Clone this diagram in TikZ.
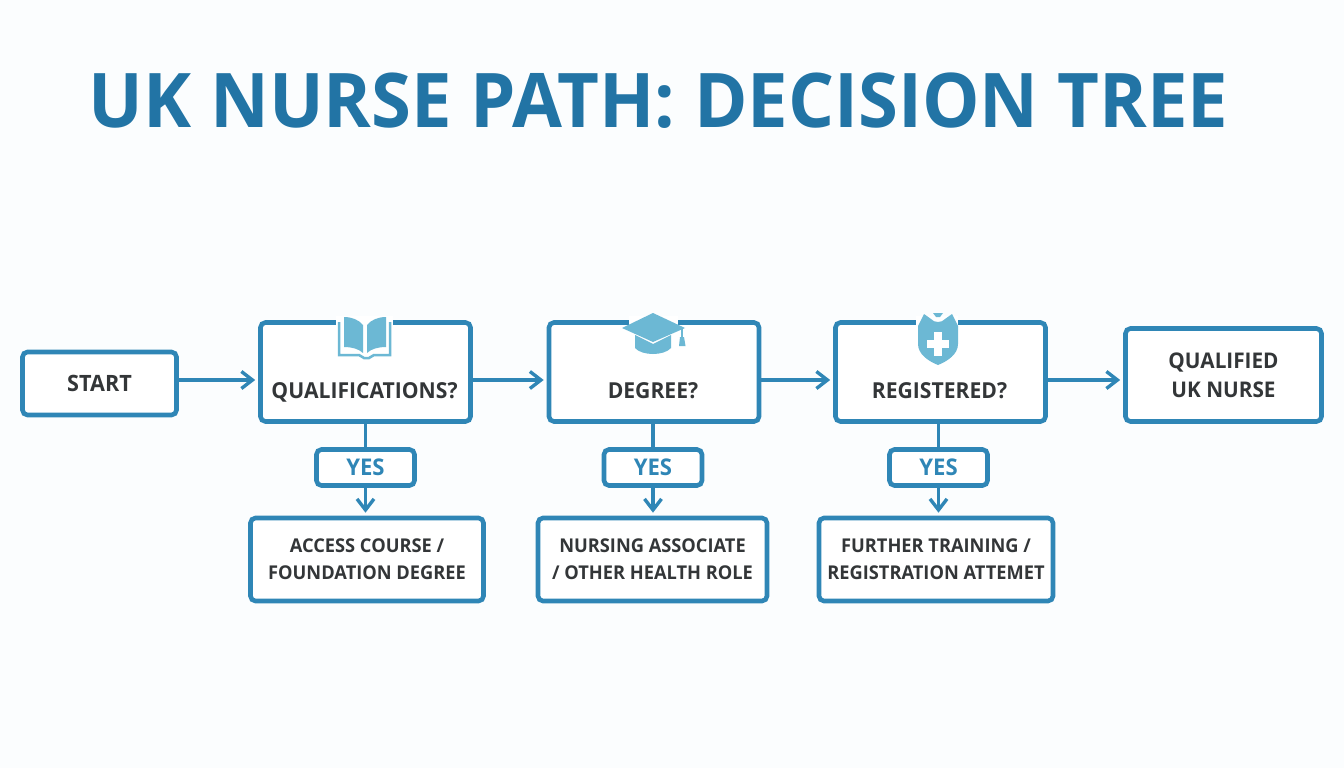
\documentclass[tikz,border=0pt]{standalone}
\usepackage{fontspec}
\setmainfont{Open Sans}[FakeStretch=0.96]
\usetikzlibrary{arrows.meta}
\definecolor{linecol}{HTML}{2F86B6}
\definecolor{titlecol}{HTML}{2274A5}
\definecolor{iconcol}{HTML}{6CB8D4}
\definecolor{textcol}{HTML}{333638}
\definecolor{pagecol}{HTML}{FBFDFE}
\tikzset{
    x=1pt,y=-1pt,
    flowbox/.style={draw=linecol,line width=4.6pt,rounded corners=5pt,fill=white,inner sep=0pt,
        text=textcol,align=center,font=\bfseries\fontsize{19}{27}\selectfont},
    yesbox/.style={flowbox,minimum width=98pt,minimum height=36pt,text=linecol,font=\bfseries\fontsize{23}{25}\selectfont},
    asklabel/.style={anchor=base,text=textcol,font=\bfseries\fontsize{22}{26}\selectfont,inner sep=0pt},
    flow/.style={draw=linecol,line width=3.2pt,shorten >=3pt,-{Straight Barb[length=11pt,width=17pt,line width=3.4pt]}},
    plainflow/.style={draw=linecol,line width=3.2pt},
}
\begin{document}
\begin{tikzpicture}
    \useasboundingbox[fill=pagecol] (0,0) rectangle (1344,768);
    \node[text=titlecol,font=\bfseries\fontsize{75.4}{80}\selectfont,inner sep=0pt] (title) at (658.5,101) {UK NURSE PATH: DECISION TREE};
    % Height of the row of horizontal arrows
    \coordinate (row) at (0,380);
    \node[flowbox,minimum width=154pt,minimum height=63pt,font=\bfseries\fontsize{22.5}{27}\selectfont] (start) at (99.5,383.5) {START};
    \node[flowbox,minimum width=196pt,minimum height=93pt,font=\bfseries\fontsize{21.6}{29}\selectfont] (done) at (1223.5,375) {QUALIFIED\\UK NURSE};
    % The three question columns
    \foreach \name/\cx/\yx/\rx/\rw/\ask/\result in {
        qual/365.5/365.5/367/233/QUALIFICATIONS?/{ACCESS COURSE /\\FOUNDATION DEGREE},
        deg/654/653/652.5/229/DEGREE?/{NURSING ASSOCIATE\\/ OTHER HEALTH ROLE},
        reg/940.5/938.5/936/234/REGISTERED?/{FURTHER TRAINING /\\REGISTRATION ATTEMET}} {
        \node[flowbox,minimum width=210pt,minimum height=99pt] (\name) at (\cx,372) {};
        \node[asklabel] (\name label) at (\cx-1,398) {\ask};
        \node[yesbox] (\name yes) at (\yx,467.5) {YES};
        \node[flowbox,minimum width=\rw pt,minimum height=83pt] (\name result) at (\rx,559.5) {\result};
        \draw[plainflow] (\name yes.north |- \name.south) -- (\name yes.north);
        \draw[flow] (\name yes.south) -- (\name yes.south |- \name result.north);
    }
    \draw[flow] (start.east |- row) -- (qual.west |- row);
    \draw[flow] (qual.east |- row) -- (deg.west |- row);
    \draw[flow] (deg.east |- row) -- (reg.west |- row);
    \draw[flow] (reg.east |- row) -- (done.west |- row);
    % Book
    \fill[white] (336,316) rectangle (393,325);
    \draw[iconcol,line width=2.5pt] (339,322) -- (339,355) -- (359,355) -- (364,358) -- (369,358) -- (374,355) -- (390,355) -- (390,322);
    \fill[iconcol] (344,317) .. controls (352,317) and (359,320) .. (363,325) -- (363,353) .. controls (359,349) and (352,347) .. (344,347) -- cycle;
    \fill[iconcol] (386,317) .. controls (378,317) and (371,320) .. (367,325) -- (367,353) .. controls (371,349) and (378,347) .. (386,347) -- cycle;
    % Cap
    \fill[white] (629,316) rectangle (678,326);
    \fill[iconcol] (635,335) -- (653,344) -- (671,335) -- (671,348) .. controls (664,356) and (642,356) .. (635,348) -- cycle;
    \fill[iconcol] (653,313) -- (685,328) -- (653,342) -- (622,328) -- cycle;
    \draw[iconcol,line width=1.5pt] (682,329) -- (682,339);
    \fill[iconcol] (680,337) -- (684,337) -- (685.5,346) -- (679,346) -- cycle;
    % Badge
    \fill[white] (916,316) rectangle (958,326);
    \fill[iconcol] (924,314) -- (931,319) .. controls (934,323) and (942,323) .. (945,319) -- (952,314) -- (958,326)
        -- (958,344) .. controls (958,354) and (948,361) .. (938,365) .. controls (928,361) and (918,354) .. (918,344) -- (918,326) -- cycle;
    \fill[iconcol] (933,313) -- (943,313) -- (940,317) -- (936,317) -- cycle;
    \fill[white] (934,332) rectangle (942,356);
    \fill[white] (927,340) rectangle (949,348);
\end{tikzpicture}
\end{document}
